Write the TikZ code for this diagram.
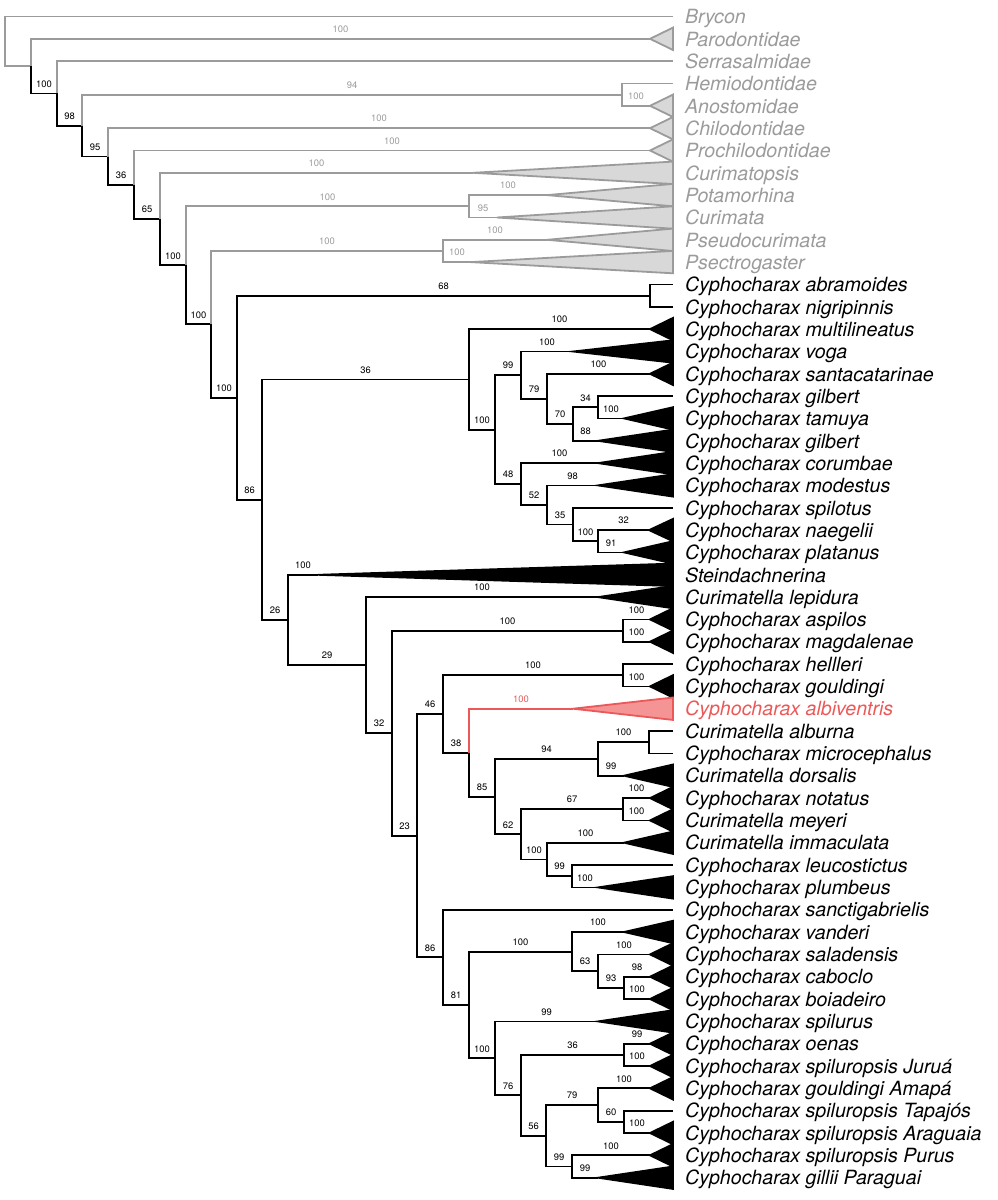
\documentclass[tikz,border=0pt]{standalone}
\usepackage{fontspec}
\usepackage{xcolor}
\usepackage{tikz}
\usetikzlibrary{positioning,calc}
\newfontfamily\heros{TeX Gyre Heros}
\definecolor{grayline}{RGB}{155,155,155}
\definecolor{grayfill}{RGB}{216,216,216}
\definecolor{redline}{RGB}{236,88,88}
\definecolor{redfill}{RGB}{245,148,148}
\newcommand{\taxfont}{\heros\itshape\fontsize{9.8}{11}\selectfont}
\newcommand{\bootfont}{\heros\fontsize{4.7}{5.5}\selectfont}
% collapsed clade: apex -> base at the tip
\newcommand{\clade}[3]{\filldraw[#1] (#2) -- ([yshift=5.6pt]#3) -- ([yshift=-5.6pt]#3) -- cycle;}

\begin{document}
\begin{tikzpicture}[x=0.5pt, y=-0.5pt, line width=0.9pt,
        outg/.style={color=grayline},
        albi/.style={color=redline},
        boot/.style={pos=0.75, above=2.6pt, inner sep=0pt, font=\bootfont},
        taxon/.style={anchor=base west, inner sep=0pt, xshift=5.6pt, yshift=-3.6pt, font=\taxfont},
        outclade/.style={draw=grayline, fill=grayfill},
        inclade/.style={draw=black, fill=black},
        redclade/.style={draw=redline, fill=redfill}
    ]
        \useasboundingbox (0,0) rectangle (997,1200);

        % Tips and taxon names
        \coordinate (bry) at (673,16.5);   \node[taxon, outg] (n-bry) at (bry) {Brycon};
        \coordinate (paro) at (673,38.8);  \node[taxon, outg] (n-paro) at (paro) {Parodontidae};
        \coordinate (serr) at (673,61.2);  \node[taxon, outg] (n-serr) at (serr) {Serrasalmidae};
        \coordinate (hemi) at (673,83.5);  \node[taxon, outg] (n-hemi) at (hemi) {Hemiodontidae};
        \coordinate (anos) at (673,105.8); \node[taxon, outg] (n-anos) at (anos) {Anostomidae};
        \coordinate (chil) at (673,128.2); \node[taxon, outg] (n-chil) at (chil) {Chilodontidae};
        \coordinate (proc) at (673,150.5); \node[taxon, outg] (n-proc) at (proc) {Prochilodontidae};
        \coordinate (cmts) at (673,172.8); \node[taxon, outg] (n-cmts) at (cmts) {Curimatopsis};
        \coordinate (pota) at (673,195.1); \node[taxon, outg] (n-pota) at (pota) {Potamorhina};
        \coordinate (cmta) at (673,217.5); \node[taxon, outg] (n-cmta) at (cmta) {Curimata};
        \coordinate (pseu) at (673,239.8); \node[taxon, outg] (n-pseu) at (pseu) {Pseudocurimata};
        \coordinate (psec) at (673,262.1); \node[taxon, outg] (n-psec) at (psec) {Psectrogaster};
        \coordinate (abra) at (673,284.5); \node[taxon] (n-abra) at (abra) {Cyphocharax abramoides};
        \coordinate (nigr) at (673,306.8); \node[taxon] (n-nigr) at (nigr) {Cyphocharax nigripinnis};
        \coordinate (mult) at (673,329.1); \node[taxon] (n-mult) at (mult) {Cyphocharax multilineatus};
        \coordinate (voga) at (673,351.5); \node[taxon] (n-voga) at (voga) {Cyphocharax voga};
        \coordinate (sant) at (673,373.8); \node[taxon] (n-sant) at (sant) {Cyphocharax santacatarinae};
        \coordinate (gil1) at (673,396.1); \node[taxon] (n-gil1) at (gil1) {Cyphocharax gilbert};
        \coordinate (tamu) at (673,418.4); \node[taxon] (n-tamu) at (tamu) {Cyphocharax tamuya};
        \coordinate (gil2) at (673,440.8); \node[taxon] (n-gil2) at (gil2) {Cyphocharax gilbert};
        \coordinate (coru) at (673,463.1); \node[taxon] (n-coru) at (coru) {Cyphocharax corumbae};
        \coordinate (mode) at (673,485.4); \node[taxon] (n-mode) at (mode) {Cyphocharax modestus};
        \coordinate (spit) at (673,507.8); \node[taxon] (n-spit) at (spit) {Cyphocharax spilotus};
        \coordinate (naeg) at (673,530.1); \node[taxon] (n-naeg) at (naeg) {Cyphocharax naegelii};
        \coordinate (plat) at (673,552.4); \node[taxon] (n-plat) at (plat) {Cyphocharax platanus};
        \coordinate (stei) at (673,574.8); \node[taxon] (n-stei) at (stei) {Steindachnerina};
        \coordinate (lepi) at (673,597.1); \node[taxon] (n-lepi) at (lepi) {Curimatella lepidura};
        \coordinate (aspi) at (673,619.4); \node[taxon] (n-aspi) at (aspi) {Cyphocharax aspilos};
        \coordinate (magd) at (673,641.7); \node[taxon] (n-magd) at (magd) {Cyphocharax magdalenae};
        \coordinate (hell) at (673,664.1); \node[taxon] (n-hell) at (hell) {Cyphocharax hellleri};
        \coordinate (goul) at (673,686.4); \node[taxon] (n-goul) at (goul) {Cyphocharax gouldingi};
        \coordinate (albi) at (673,708.7); \node[taxon, albi] (n-albi) at (albi) {Cyphocharax albiventris};
        \coordinate (albu) at (673,731.1); \node[taxon] (n-albu) at (albu) {Curimatella alburna};
        \coordinate (micr) at (673,753.4); \node[taxon] (n-micr) at (micr) {Cyphocharax microcephalus};
        \coordinate (dors) at (673,775.7); \node[taxon] (n-dors) at (dors) {Curimatella dorsalis};
        \coordinate (nota) at (673,798.1); \node[taxon] (n-nota) at (nota) {Cyphocharax notatus};
        \coordinate (meye) at (673,820.4); \node[taxon] (n-meye) at (meye) {Curimatella meyeri};
        \coordinate (imma) at (673,842.7); \node[taxon] (n-imma) at (imma) {Curimatella immaculata};
        \coordinate (leuc) at (673,865.0); \node[taxon] (n-leuc) at (leuc) {Cyphocharax leucostictus};
        \coordinate (plum) at (673,887.4); \node[taxon] (n-plum) at (plum) {Cyphocharax plumbeus};
        \coordinate (sanc) at (673,909.7); \node[taxon] (n-sanc) at (sanc) {Cyphocharax sanctigabrielis};
        \coordinate (vand) at (673,932.0); \node[taxon] (n-vand) at (vand) {Cyphocharax vanderi};
        \coordinate (sala) at (673,954.4); \node[taxon] (n-sala) at (sala) {Cyphocharax saladensis};
        \coordinate (cabo) at (673,976.7); \node[taxon] (n-cabo) at (cabo) {Cyphocharax caboclo};
        \coordinate (boia) at (673,999.0); \node[taxon] (n-boia) at (boia) {Cyphocharax boiadeiro};
        \coordinate (spil) at (673,1021.4); \node[taxon] (n-spil) at (spil) {Cyphocharax spilurus};
        \coordinate (oena) at (673,1043.7); \node[taxon] (n-oena) at (oena) {Cyphocharax oenas};
        \coordinate (juru) at (673,1066.0); \node[taxon] (n-juru) at (juru) {Cyphocharax spiluropsis Juruá};
        \coordinate (amap) at (673,1088.3); \node[taxon] (n-amap) at (amap) {Cyphocharax gouldingi Amapá};
        \coordinate (tapa) at (673,1110.7); \node[taxon] (n-tapa) at (tapa) {Cyphocharax spiluropsis Tapajós};
        \coordinate (arag) at (673,1133.0); \node[taxon] (n-arag) at (arag) {Cyphocharax spiluropsis Araguaia};
        \coordinate (puru) at (673,1155.3); \node[taxon] (n-puru) at (puru) {Cyphocharax spiluropsis Purus};
        \coordinate (gill) at (673,1177.7); \node[taxon] (n-gill) at (gill) {Cyphocharax gillii Paraguai};

        % Apices of collapsed clades
        \coordinate (a-paro) at (650,38.8);
        \coordinate (a-anos) at (650,105.8);
        \coordinate (a-chil) at (650,128.2);
        \coordinate (a-proc) at (650,150.5);
        \coordinate (a-cmts) at (473,172.8);
        \coordinate (a-pota) at (547,195.1);
        \coordinate (a-cmta) at (497,217.5);
        \coordinate (a-pseu) at (547,239.8);
        \coordinate (a-psec) at (471,262.1);
        \coordinate (a-mult) at (650,329.1);
        \coordinate (a-voga) at (573,351.5);
        \coordinate (a-sant) at (650,373.8);
        \coordinate (a-tamu) at (624,418.4);
        \coordinate (a-gil2) at (598,440.8);
        \coordinate (a-coru) at (598,463.1);
        \coordinate (a-mode) at (598,485.4);
        \coordinate (a-naeg) at (649,530.1);
        \coordinate (a-plat) at (624,552.4);
        \coordinate (a-stei) at (318,574.8);
        \coordinate (a-lepi) at (598,597.1);
        \coordinate (a-aspi) at (650,619.4);
        \coordinate (a-magd) at (650,641.7);
        \coordinate (a-goul) at (650,686.4);
        \coordinate (a-albi) at (573,708.7);
        \coordinate (a-dors) at (624,775.7);
        \coordinate (a-nota) at (650,798.1);
        \coordinate (a-meye) at (650,820.4);
        \coordinate (a-imma) at (624,842.7);
        \coordinate (a-plum) at (598,887.4);
        \coordinate (a-vand) at (624,932.0);
        \coordinate (a-sala) at (650,954.4);
        \coordinate (a-cabo) at (650,976.7);
        \coordinate (a-boia) at (650,999.0);
        \coordinate (a-spil) at (598,1021.4);
        \coordinate (a-oena) at (650,1043.7);
        \coordinate (a-juru) at (650,1066.0);
        \coordinate (a-amap) at (650,1088.3);
        \coordinate (a-arag) at (650,1133.0);
        \coordinate (a-puru) at (650,1155.3);
        \coordinate (a-gill) at (598,1177.7);

        % Internal nodes
        \coordinate (R) at (5,41.3);
        \coordinate (A) at (31,66.1);
        \coordinate (B) at (57,93.4);
        \coordinate (C) at (82,125.6);
        \coordinate (H) at (622,94.7);
        \coordinate (D) at (108,156.5);
        \coordinate (E) at (134,184.8);
        \coordinate (F) at (160,219.1);
        \coordinate (G) at (186,265.3);
        \coordinate (P) at (469,206.3);
        \coordinate (I) at (211,324.3);
        \coordinate (Q) at (443,251.0);
        \coordinate (J) at (237,397.6);
        \coordinate (AB) at (650,295.6);
        \coordinate (K) at (262,499.7);
        \coordinate (L) at (469,379.4);
        \coordinate (L2) at (495,429.6);
        \coordinate (L3) at (521,375.2);
        \coordinate (L5) at (547,398.9);
        \coordinate (L6) at (573,424.0);
        \coordinate (L7) at (598,407.3);
        \coordinate (L4) at (521,484.0);
        \coordinate (L8) at (547,505.0);
        \coordinate (L9) at (573,524.5);
        \coordinate (L10) at (598,541.3);
        \coordinate (M) at (288,619.9);
        \coordinate (N) at (366,665.1);
        \coordinate (O) at (392,733.1);
        \coordinate (AM) at (623,630.6);
        \coordinate (S) at (417,835.7);
        \coordinate (T) at (443,714.0);
        \coordinate (HG) at (623,675.2);
        \coordinate (U) at (469,752.7);
        \coordinate (V) at (495,796.7);
        \coordinate (W) at (598,759.0);
        \coordinate (AlMi) at (649,742.2);
        \coordinate (X) at (521,834.3);
        \coordinate (Y) at (623,809.2);
        \coordinate (Z) at (547,859.5);
        \coordinate (AA) at (572,876.2);
        \coordinate (BB) at (443,957.3);
        \coordinate (CC) at (469,1005.0);
        \coordinate (DD) at (572,951.6);
        \coordinate (FF) at (598,971.1);
        \coordinate (GG) at (624,987.9);
        \coordinate (EE) at (495,1058.3);
        \coordinate (HH) at (521,1095.3);
        \coordinate (II) at (624,1054.8);
        \coordinate (JJ) at (546,1135.8);
        \coordinate (KK) at (598,1105.1);
        \coordinate (MM) at (624,1121.8);
        \coordinate (LL) at (572,1166.5);

        % Outgroups
        \draw[outg] (R) |- (bry);
        \draw[outg] (R) |- (A);
        \draw[outg] (A) |- node[boot] {100} (a-paro);
        \draw (A) |- node[boot] {100} (B);
        \draw[outg] (B) |- (serr);
        \draw (B) |- node[boot] {98} (C);
        \draw[outg] (C) |- node[boot] {94} (H);
        \draw[outg] (H) |- (hemi);
        \draw[outg] (H) |- node[boot] {100} (a-anos);
        \draw (C) |- node[boot] {95} (D);
        \draw[outg] (D) |- node[boot] {100} (a-chil);
        \draw (D) |- node[boot] {36} (E);
        \draw[outg] (E) |- node[boot] {100} (a-proc);
        \draw (E) |- node[boot] {65} (F);
        \draw[outg] (F) |- node[boot] {100} (a-cmts);
        \draw (F) |- node[boot] {100} (G);
        \draw[outg] (G) |- node[boot] {100} (P);
        \draw[outg] (P) |- node[boot] {100} (a-pota);
        \draw[outg] (P) |- node[boot] {95} (a-cmta);
        \draw (G) |- node[boot] {100} (I);
        \draw[outg] (I) |- node[boot] {100} (Q);
        \draw[outg] (Q) |- node[boot] {100} (a-pseu);
        \draw[outg] (Q) |- node[boot] {100} (a-psec);
        \draw (I) |- node[boot] {100} (J);

        % Ingroup
        \draw (J) |- node[boot] {68} (AB);
        \draw (AB) |- (abra);
        \draw (AB) |- (nigr);
        \draw (J) |- node[boot] {86} (K);
        \draw (K) |- node[boot] {36} (L);
        \draw (L) |- node[boot] {100} (a-mult);
        \draw (L) |- node[boot] {100} (L2);
        \draw (L2) |- node[boot] {99} (L3);
        \draw (L3) |- node[boot] {100} (a-voga);
        \draw (L3) |- node[boot] {79} (L5);
        \draw (L5) |- node[boot] {100} (a-sant);
        \draw (L5) |- node[boot] {70} (L6);
        \draw (L6) |- node[boot] {34} (L7);
        \draw (L7) |- (gil1);
        \draw (L7) |- node[boot] {100} (a-tamu);
        \draw (L6) |- node[boot] {88} (a-gil2);
        \draw (L2) |- node[boot] {48} (L4);
        \draw (L4) |- node[boot] {100} (a-coru);
        \draw (L4) |- node[boot] {52} (L8);
        \draw (L8) |- node[boot] {98} (a-mode);
        \draw (L8) |- node[boot] {35} (L9);
        \draw (L9) |- (spit);
        \draw (L9) |- node[boot] {100} (L10);
        \draw (L10) |- node[boot] {32} (a-naeg);
        \draw (L10) |- node[boot] {91} (a-plat);
        \draw (K) |- node[boot] {26} (M);
        \draw (M) |- node[boot] {100} (a-stei);
        \draw (M) |- node[boot] {29} (N);
        \draw (N) |- node[boot] {100} (a-lepi);
        \draw (N) |- node[boot] {32} (O);
        \draw (O) |- node[boot] {100} (AM);
        \draw (AM) |- node[boot] {100} (a-aspi);
        \draw (AM) |- node[boot] {100} (a-magd);
        \draw (O) |- node[boot] {23} (S);
        \draw (S) |- node[boot] {46} (T);
        \draw (T) |- node[boot] {100} (HG);
        \draw (HG) |- (hell);
        \draw (HG) |- node[boot] {100} (a-goul);
        \draw (T) |- node[boot] {38} (U);
        \draw[albi] (U) |- node[boot] {100} (a-albi);
        \draw (U) |- node[boot] {85} (V);
        \draw (V) |- node[boot] {94} (W);
        \draw (W) |- node[boot] {100} (AlMi);
        \draw (AlMi) |- (albu);
        \draw (AlMi) |- (micr);
        \draw (W) |- node[boot] {99} (a-dors);
        \draw (V) |- node[boot] {62} (X);
        \draw (X) |- node[boot] {67} (Y);
        \draw (Y) |- node[boot] {100} (a-nota);
        \draw (Y) |- node[boot] {100} (a-meye);
        \draw (X) |- node[boot] {100} (Z);
        \draw (Z) |- node[boot] {100} (a-imma);
        \draw (Z) |- node[boot] {99} (AA);
        \draw (AA) |- (leuc);
        \draw (AA) |- node[boot] {100} (a-plum);
        \draw (S) |- node[boot] {86} (BB);
        \draw (BB) |- (sanc);
        \draw (BB) |- node[boot] {81} (CC);
        \draw (CC) |- node[boot] {100} (DD);
        \draw (DD) |- node[boot] {100} (a-vand);
        \draw (DD) |- node[boot] {63} (FF);
        \draw (FF) |- node[boot] {100} (a-sala);
        \draw (FF) |- node[boot] {93} (GG);
        \draw (GG) |- node[boot] {98} (a-cabo);
        \draw (GG) |- node[boot] {100} (a-boia);
        \draw (CC) |- node[boot] {100} (EE);
        \draw (EE) |- node[boot] {99} (a-spil);
        \draw (EE) |- node[boot] {76} (HH);
        \draw (HH) |- node[boot] {36} (II);
        \draw (II) |- node[boot] {99} (a-oena);
        \draw (II) |- node[boot] {100} (a-juru);
        \draw (HH) |- node[boot] {56} (JJ);
        \draw (JJ) |- node[boot] {79} (KK);
        \draw (KK) |- node[boot] {100} (a-amap);
        \draw (KK) |- node[boot] {60} (MM);
        \draw (MM) |- (tapa);
        \draw (MM) |- node[boot] {100} (a-arag);
        \draw (JJ) |- node[boot] {99} (LL);
        \draw (LL) |- node[boot] {100} (a-puru);
        \draw (LL) |- node[boot] {99} (a-gill);

        % Collapsed clades
        \clade{outclade}{a-paro}{paro}
        \clade{outclade}{a-anos}{anos}
        \clade{outclade}{a-chil}{chil}
        \clade{outclade}{a-proc}{proc}
        \clade{outclade}{a-cmts}{cmts}
        \clade{outclade}{a-pota}{pota}
        \clade{outclade}{a-cmta}{cmta}
        \clade{outclade}{a-pseu}{pseu}
        \clade{outclade}{a-psec}{psec}
        \clade{inclade}{a-mult}{mult}
        \clade{inclade}{a-voga}{voga}
        \clade{inclade}{a-sant}{sant}
        \clade{inclade}{a-tamu}{tamu}
        \clade{inclade}{a-gil2}{gil2}
        \clade{inclade}{a-coru}{coru}
        \clade{inclade}{a-mode}{mode}
        \clade{inclade}{a-naeg}{naeg}
        \clade{inclade}{a-plat}{plat}
        \clade{inclade}{a-stei}{stei}
        \clade{inclade}{a-lepi}{lepi}
        \clade{inclade}{a-aspi}{aspi}
        \clade{inclade}{a-magd}{magd}
        \clade{inclade}{a-goul}{goul}
        \clade{redclade}{a-albi}{albi}
        \clade{inclade}{a-dors}{dors}
        \clade{inclade}{a-nota}{nota}
        \clade{inclade}{a-meye}{meye}
        \clade{inclade}{a-imma}{imma}
        \clade{inclade}{a-plum}{plum}
        \clade{inclade}{a-vand}{vand}
        \clade{inclade}{a-sala}{sala}
        \clade{inclade}{a-cabo}{cabo}
        \clade{inclade}{a-boia}{boia}
        \clade{inclade}{a-spil}{spil}
        \clade{inclade}{a-oena}{oena}
        \clade{inclade}{a-juru}{juru}
        \clade{inclade}{a-amap}{amap}
        \clade{inclade}{a-arag}{arag}
        \clade{inclade}{a-puru}{puru}
        \clade{inclade}{a-gill}{gill}
    \end{tikzpicture}
\end{document}
